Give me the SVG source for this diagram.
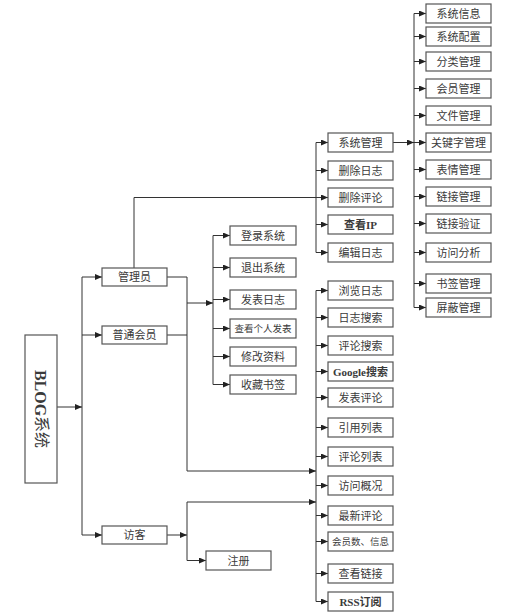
<svg xmlns="http://www.w3.org/2000/svg" width="508" height="616" viewBox="0 0 508 616">
<defs>
<marker id="arr" markerUnits="userSpaceOnUse" markerWidth="7" markerHeight="6" refX="7" refY="3" orient="auto">
<path d="M0,0 L7,3 L0,6 z" fill="#222"/>
</marker>
<style>
.box{fill:#fff;stroke:#555;stroke-width:1.2}
.t{font-family:"Liberation Serif","Noto Sans CJK SC",serif;font-size:11px;fill:#3a3a3a;text-anchor:middle;dominant-baseline:central}
.s{font-size:9.5px}
.b{font-weight:bold}
.c{fill:none;stroke:#333;stroke-width:1}
.a{fill:none;stroke:#333;stroke-width:1;marker-end:url(#arr)}
</style>
</defs>
<rect width="508" height="616" fill="#fff"/>
<g id="connectors">
<path class="a" d="M57,407 H82"/>
<path class="c" d="M82,277 V535"/>
<path class="a" d="M82,277 H102"/>
<path class="a" d="M82,335 H102"/>
<path class="a" d="M82,535 H102"/>
<path class="c" d="M134,268 V197.5 H316"/>
<path class="a" d="M167,277 H187 V471 H316"/>
<path class="c" d="M167,335 H187"/>
<path class="a" d="M187,303 H213"/>
<path class="c" d="M213,235.5 V384.5"/>
<path class="a" d="M213,235.5 H230"/>
<path class="a" d="M213,267.5 H230"/>
<path class="a" d="M213,299.5 H230"/>
<path class="a" d="M213,328.5 H230"/>
<path class="a" d="M213,356.5 H230"/>
<path class="a" d="M213,384.5 H230"/>
<path class="c" d="M316,142.5 V252.5"/>
<path class="a" d="M316,142.5 H328"/>
<path class="a" d="M316,170.5 H328"/>
<path class="a" d="M316,197.5 H328"/>
<path class="a" d="M316,224.5 H328"/>
<path class="a" d="M316,252.5 H328"/>
<path class="a" d="M393,142.5 H414"/>
<path class="c" d="M414,13.5 V307.5"/>
<path class="a" d="M414,13.5 H426"/>
<path class="a" d="M414,36.5 H426"/>
<path class="a" d="M414,61.5 H426"/>
<path class="a" d="M414,88.5 H426"/>
<path class="a" d="M414,115.5 H426"/>
<path class="a" d="M414,142.5 H426"/>
<path class="a" d="M414,169.5 H426"/>
<path class="a" d="M414,196.5 H426"/>
<path class="a" d="M414,223.5 H426"/>
<path class="a" d="M414,252.5 H426"/>
<path class="a" d="M414,283.5 H426"/>
<path class="a" d="M414,307.5 H426"/>
<path class="c" d="M316,290.5 V601.5"/>
<path class="a" d="M316,290.5 H328"/>
<path class="a" d="M316,317.5 H328"/>
<path class="a" d="M316,345.5 H328"/>
<path class="a" d="M316,371.5 H328"/>
<path class="a" d="M316,397.5 H328"/>
<path class="a" d="M316,427.5 H328"/>
<path class="a" d="M316,456.5 H328"/>
<path class="a" d="M316,485.5 H328"/>
<path class="a" d="M316,515.5 H328"/>
<path class="a" d="M316,541.5 H328"/>
<path class="a" d="M316,573.5 H328"/>
<path class="a" d="M316,601.5 H328"/>
<path class="a" d="M167,535 H187"/>
<path class="c" d="M187,502 V560.5"/>
<path class="a" d="M187,502 H316"/>
<path class="a" d="M187,560.5 H206"/>
</g>
<g id="blog"><rect class="box" x="25" y="335" width="32" height="148"/><text class="t" style="font-size:16px" transform="translate(41,409) rotate(90)"><tspan class="b">BLOG</tspan>系统</text></g>
<g id="admin"><rect class="box" x="102" y="268" width="65" height="18"/><text class="t" x="134.5" y="277">管理员</text></g>
<g id="member"><rect class="box" x="102" y="326" width="65" height="18"/><text class="t" x="134.5" y="335">普通会员</text></g>
<g id="guest"><rect class="box" x="102" y="526" width="65" height="18"/><text class="t" x="134.5" y="535">访客</text></g>
<g id="register"><rect class="box" x="206" y="551" width="65" height="19"/><text class="t" x="238.5" y="560.5">注册</text></g>
<g id="login"><rect class="box" x="230" y="226" width="66" height="19"/><text class="t" x="263" y="235.5">登录系统</text></g>
<g id="logout"><rect class="box" x="230" y="258" width="66" height="19"/><text class="t" x="263" y="267.5">退出系统</text></g>
<g id="post"><rect class="box" x="230" y="290" width="66" height="19"/><text class="t" x="263" y="299.5">发表日志</text></g>
<g id="myposts"><rect class="box" x="230" y="319" width="66" height="19"/><text class="t s" x="263" y="328.5">查看个人发表</text></g>
<g id="profile"><rect class="box" x="230" y="347" width="66" height="19"/><text class="t" x="263" y="356.5">修改资料</text></g>
<g id="bookmark"><rect class="box" x="230" y="375" width="66" height="19"/><text class="t" x="263" y="384.5">收藏书签</text></g>
<g id="sysmgr"><rect class="box" x="328" y="133" width="65" height="19"/><text class="t" x="360.5" y="142.5">系统管理</text></g>
<g id="dellog"><rect class="box" x="328" y="161" width="65" height="19"/><text class="t" x="360.5" y="170.5">删除日志</text></g>
<g id="delcmt"><rect class="box" x="328" y="188" width="65" height="19"/><text class="t" x="360.5" y="197.5">删除评论</text></g>
<g id="viewip"><rect class="box" x="328" y="215" width="65" height="19"/><text class="t b" x="360.5" y="224.5">查看IP</text></g>
<g id="editlog"><rect class="box" x="328" y="243" width="65" height="19"/><text class="t" x="360.5" y="252.5">编辑日志</text></g>
<g id="s1"><rect class="box" x="426" y="4" width="65" height="19"/><text class="t" x="458.5" y="13.5">系统信息</text></g>
<g id="s2"><rect class="box" x="426" y="27" width="65" height="19"/><text class="t" x="458.5" y="36.5">系统配置</text></g>
<g id="s3"><rect class="box" x="426" y="52" width="65" height="19"/><text class="t" x="458.5" y="61.5">分类管理</text></g>
<g id="s4"><rect class="box" x="426" y="79" width="65" height="19"/><text class="t" x="458.5" y="88.5">会员管理</text></g>
<g id="s5"><rect class="box" x="426" y="106" width="65" height="19"/><text class="t" x="458.5" y="115.5">文件管理</text></g>
<g id="s6"><rect class="box" x="426" y="133" width="65" height="19"/><text class="t" x="458.5" y="142.5">关键字管理</text></g>
<g id="s7"><rect class="box" x="426" y="160" width="65" height="19"/><text class="t" x="458.5" y="169.5">表情管理</text></g>
<g id="s8"><rect class="box" x="426" y="187" width="65" height="19"/><text class="t" x="458.5" y="196.5">链接管理</text></g>
<g id="s9"><rect class="box" x="426" y="214" width="65" height="19"/><text class="t" x="458.5" y="223.5">链接验证</text></g>
<g id="s10"><rect class="box" x="426" y="243" width="65" height="19"/><text class="t" x="458.5" y="252.5">访问分析</text></g>
<g id="s11"><rect class="box" x="426" y="274" width="65" height="19"/><text class="t" x="458.5" y="283.5">书签管理</text></g>
<g id="s12"><rect class="box" x="426" y="298" width="65" height="19"/><text class="t" x="458.5" y="307.5">屏蔽管理</text></g>
<g id="m1"><rect class="box" x="328" y="281" width="65" height="19"/><text class="t" x="360.5" y="290.5">浏览日志</text></g>
<g id="m2"><rect class="box" x="328" y="308" width="65" height="19"/><text class="t" x="360.5" y="317.5">日志搜索</text></g>
<g id="m3"><rect class="box" x="328" y="336" width="65" height="19"/><text class="t" x="360.5" y="345.5">评论搜索</text></g>
<g id="m4"><rect class="box" x="328" y="362" width="65" height="19"/><text class="t b" x="360.5" y="371.5">Google搜索</text></g>
<g id="m5"><rect class="box" x="328" y="388" width="65" height="19"/><text class="t" x="360.5" y="397.5">发表评论</text></g>
<g id="m6"><rect class="box" x="328" y="418" width="65" height="19"/><text class="t" x="360.5" y="427.5">引用列表</text></g>
<g id="m7"><rect class="box" x="328" y="447" width="65" height="19"/><text class="t" x="360.5" y="456.5">评论列表</text></g>
<g id="m8"><rect class="box" x="328" y="476" width="65" height="19"/><text class="t" x="360.5" y="485.5">访问概况</text></g>
<g id="g1"><rect class="box" x="328" y="506" width="65" height="19"/><text class="t" x="360.5" y="515.5">最新评论</text></g>
<g id="g2"><rect class="box" x="328" y="532" width="65" height="19"/><text class="t s" x="360.5" y="541.5">会员数、信息</text></g>
<g id="g3"><rect class="box" x="328" y="564" width="65" height="19"/><text class="t" x="360.5" y="573.5">查看链接</text></g>
<g id="g4"><rect class="box" x="328" y="592" width="65" height="19"/><text class="t b" x="360.5" y="601.5">RSS订阅</text></g>
</svg>
